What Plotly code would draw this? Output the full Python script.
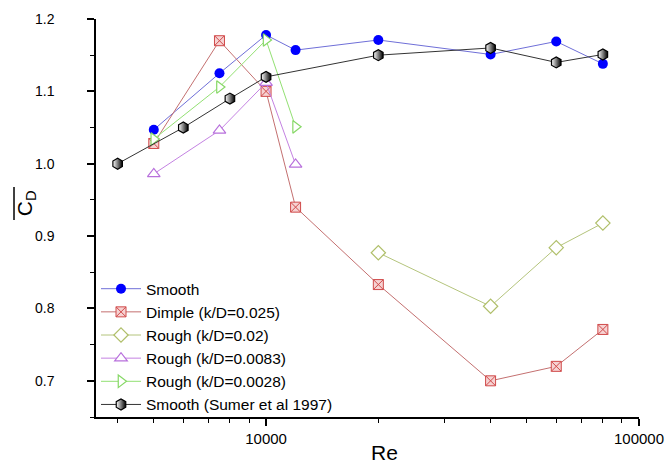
import plotly.graph_objects as go

re_smooth = [5000, 7500, 10000, 12000, 20000, 40000, 60000, 80000]
cd_smooth = [1.047, 1.125, 1.178, 1.157, 1.171, 1.151, 1.169, 1.138]

re_dimple = [5000, 7500, 10000, 12000, 20000, 40000, 60000, 80000]
cd_dimple = [1.028, 1.170, 1.100, 0.940, 0.833, 0.700, 0.720, 0.771]

re_r002 = [20000, 40000, 60000, 80000]
cd_r002 = [0.877, 0.803, 0.884, 0.918]

re_r0083 = [5000, 7500, 10000, 12000]
cd_r0083 = [0.986, 1.046, 1.112, 0.999]

re_r0028 = [5000, 7500, 10000, 12000]
cd_r0028 = [1.034, 1.106, 1.171, 1.051]

re_sumer = [4000, 6000, 8000, 10000, 20000, 40000, 60000, 80000]
cd_sumer = [1.000, 1.050, 1.090, 1.120, 1.150, 1.160, 1.140, 1.151]

names = ["Smooth", "Dimple (k/D=0.025)", "Rough (k/D=0.02)", "Rough (k/D=0.0083)",
         "Rough (k/D=0.0028)", "Smooth (Sumer et al 1997)"]

fig = go.Figure()

fig.add_trace(go.Scatter(x=re_smooth, y=cd_smooth, name=names[0], mode="lines+markers",
                         line=dict(color="#6f6fd8", width=1),
                         marker=dict(symbol="circle", size=10, color="#0000ff",
                                     line=dict(color="#0000ff", width=0))))
fig.add_trace(go.Scatter(x=re_dimple, y=cd_dimple, name=names[1], mode="lines+markers",
                         line=dict(color="#c47070", width=1),
                         marker=dict(symbol="square-x", size=10, color="#f6d2d2",
                                     line=dict(color="#d04a4a", width=1))))
fig.add_trace(go.Scatter(x=re_r002, y=cd_r002, name=names[2], mode="lines+markers",
                         line=dict(color="#b4c47c", width=1),
                         marker=dict(symbol="diamond", size=11, color="white",
                                     line=dict(color="#b0bf6a", width=1.2))))
fig.add_trace(go.Scatter(x=re_r0083, y=cd_r0083, name=names[3], mode="lines+markers",
                         line=dict(color="#c482e2", width=1),
                         marker=dict(symbol="triangle-up", size=11, color="white",
                                     line=dict(color="#b870dc", width=1.2))))
fig.add_trace(go.Scatter(x=re_r0028, y=cd_r0028, name=names[4], mode="lines+markers",
                         line=dict(color="#92e072", width=1),
                         marker=dict(symbol="triangle-right", size=11, color="white",
                                     line=dict(color="#86d866", width=1.2))))
fig.add_trace(go.Scatter(x=re_sumer, y=cd_sumer, name=names[5], mode="lines+markers",
                         line=dict(color="#333333", width=1),
                         marker=dict(symbol="hexagon", size=11, color="white",
                                     gradient=dict(type="horizontal", color="black"),
                                     line=dict(color="black", width=1.2))))

font_family = "Liberation Sans, Arial, sans-serif"

fig.update_layout(
    width=667, height=466,
    margin=dict(l=96, r=28, t=19, b=49, autoexpand=False),
    paper_bgcolor="white", plot_bgcolor="white",
    font=dict(family=font_family, color="black", size=14),
    showlegend=True,
    legend=dict(x=0.0, y=0.364, xanchor="left", yanchor="top",
                bgcolor="rgba(0,0,0,0)", font=dict(size=15.5, family=font_family),
                itemwidth=40, tracegroupgap=0),
    xaxis=dict(type="log", range=[3.544, 5.0], dtick=1, tickformat="d",
               automargin=False,
               showline=True, linecolor="black", linewidth=1.5, mirror=False,
               showgrid=False, zeroline=False,
               ticks="outside", ticklen=7, tickwidth=1.5, tickcolor="black",
               tickfont=dict(size=15),
               minor=dict(ticks="outside", ticklen=4, tickwidth=1.2,
                          tickcolor="black", dtick="D1", showgrid=False)),
    yaxis=dict(range=[0.65, 1.2], tick0=0.7, dtick=0.1, tickformat=".1f",
               automargin=False,
               showline=True, linecolor="black", linewidth=1.5, mirror=False,
               showgrid=False, zeroline=False,
               ticks="outside", ticklen=7, tickwidth=1.5, tickcolor="black",
               ticklabelstandoff=30, tickfont=dict(size=14),
               minor=dict(ticks="outside", ticklen=4, tickwidth=1.2,
                          tickcolor="black", dtick=0.05, showgrid=False)),
    annotations=[
        dict(text="Re", x=0.532, y=-0.09, xref="paper", yref="paper",
             xanchor="center", yanchor="middle", showarrow=False,
             font=dict(size=21, family=font_family)),
        dict(text="C<sub>D</sub>", x=-0.13, y=0.538, xref="paper", yref="paper",
             xanchor="center", yanchor="middle", showarrow=False, textangle=-90,
             font=dict(size=21, family=font_family)),
    ],
    shapes=[
        dict(type="line", xref="paper", yref="paper",
             x0=-0.151, x1=-0.151, y0=0.495, y1=0.578,
             line=dict(color="black", width=1.5)),
    ],
)

fig.write_html("out.html")
